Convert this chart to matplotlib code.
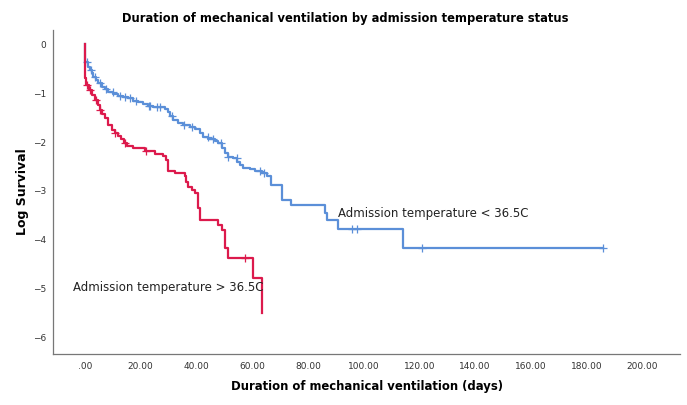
import numpy as np
import matplotlib
matplotlib.use("Agg")
import matplotlib.pyplot as plt

# Blue group: admission temperature < 36.5C  (step times in days, log survival after step)
blue_t = [0, 0, 1.1, 1.8, 2.5, 2.9, 3.9, 4.7, 6.1, 7.2, 8.3, 10.1, 11.8, 13.6, 15.4, 17.2,
          19.0, 20.8, 22.6, 24.4, 28.7, 29.8, 30.5, 31.6, 33.4, 35.2, 37.7, 39.5, 41.3,
          42.4, 44.2, 46.7, 47.8, 49.2, 50.3, 51.3, 53.1, 54.6, 55.7, 56.7, 59.2, 61.0,
          63.6, 65.4, 66.8, 70.7, 74.0, 86.2, 86.9, 90.8, 114.2]
blue_y = [0, -0.37, -0.47, -0.53, -0.59, -0.67, -0.73, -0.80, -0.88, -0.92, -0.98, -1.02,
          -1.06, -1.08, -1.10, -1.16, -1.18, -1.22, -1.27, -1.29, -1.33, -1.39, -1.47, -1.55,
          -1.61, -1.65, -1.69, -1.73, -1.82, -1.90, -1.94, -1.98, -2.02, -2.12, -2.22, -2.31,
          -2.33, -2.41, -2.47, -2.53, -2.55, -2.59, -2.63, -2.69, -2.88, -3.18, -3.29, -3.45,
          -3.59, -3.78, -4.16]
blue_end = 186.0
blue_cens = [0.9, 2.2, 3.5, 5.5, 7.5, 10.0, 12.5, 14.5, 16.0, 18.5, 22.9, 23.5, 26.0, 27.0,
             31.2, 35.5, 38.5, 44.0, 46.0, 49.0, 51.5, 54.5, 63.0, 64.4, 96.0, 97.5, 121.0, 186.0]

# Red group: admission temperature > 36.5C
red_t = [0, 0, 0.4, 1.4, 2.5, 3.6, 4.7, 5.4, 6.1, 7.2, 8.3, 9.7, 10.8, 11.8, 12.9, 14.0,
         15.1, 17.2, 21.5, 25.1, 28.0, 29.2, 29.9, 32.3, 35.9, 36.3, 37.0, 38.4, 39.5, 40.6,
         41.3, 47.8, 49.2, 50.3, 51.3, 60.3, 63.6]
red_y = [0, -0.69, -0.84, -0.94, -1.04, -1.14, -1.24, -1.35, -1.43, -1.51, -1.65, -1.76,
         -1.82, -1.88, -1.94, -2.02, -2.08, -2.12, -2.18, -2.24, -2.29, -2.37, -2.59, -2.63,
         -2.69, -2.82, -2.92, -2.98, -3.04, -3.35, -3.59, -3.69, -3.80, -4.16, -4.37, -4.78,
         -5.49]
red_end = 63.6
red_cens = [0.9, 1.8, 4.0, 5.4, 10.8, 14.5, 21.9, 57.4]

x_ticks = [0, 20, 40, 60, 80, 100, 120, 140, 160, 180, 200]
x_ticklabels = [".00", "20.00", "40.00", "60.00", "80.00", "100.00", "120.00",
                "140.00", "160.00", "180.00", "200.00"]
y_ticks = [0, -1, -2, -3, -4, -5, -6]

BLUE = "#5b8fd8"
RED = "#dc1a4c"

fig = plt.figure(figsize=(6.87, 4.05), dpi=100)
ax = fig.add_axes([0.077, 0.126, 0.913, 0.80])


def draw(ax, t, y, end, cens, color):
    tt = list(t) + [end]
    yy = list(y) + [y[-1]]
    ax.step(tt, yy, where="post", color=color, lw=1.6, zorder=3)
    ta = np.array(t)
    ya = np.array(y)
    cy = [ya[np.searchsorted(ta, c, side="right") - 1] for c in cens]
    ax.plot(cens, cy, ls="none", marker="+", ms=6, mew=0.9, color=color, zorder=3)


draw(ax, blue_t, blue_y, blue_end, blue_cens, BLUE)
draw(ax, red_t, red_y, red_end, red_cens, RED)

ax.text(90.8, -3.45, "Admission temperature < 36.5C", fontsize=8.5, va="center", ha="left",
        color="#222222")
ax.text(-4.3, -4.98, "Admission temperature > 36.5C", fontsize=8.5, va="center", ha="left",
        color="#222222")

ax.set_xlim(-11.5, 213.6)
ax.set_ylim(-6.33, 0.29)
ax.set_xticks(x_ticks)
ax.set_xticklabels(x_ticklabels)
ax.set_yticks(y_ticks)
ax.tick_params(length=0, labelsize=6.5, colors="#333333")
ax.tick_params(axis="x", pad=6)
ax.tick_params(axis="y", pad=5)
for s in ["top", "right"]:
    ax.spines[s].set_visible(False)
for s in ["left", "bottom"]:
    ax.spines[s].set_color("#777777")
    ax.spines[s].set_linewidth(0.9)

ax.set_xlabel("Duration of mechanical ventilation (days)", fontsize=8.4, fontweight="bold",
              labelpad=6)
ax.set_ylabel("Log Survival", fontsize=9, fontweight="bold", labelpad=3)
fig.suptitle("Duration of mechanical ventilation by admission temperature status",
             fontsize=8.3, fontweight="bold", x=0.502, y=0.97)

fig.savefig("out.png", dpi=100)
